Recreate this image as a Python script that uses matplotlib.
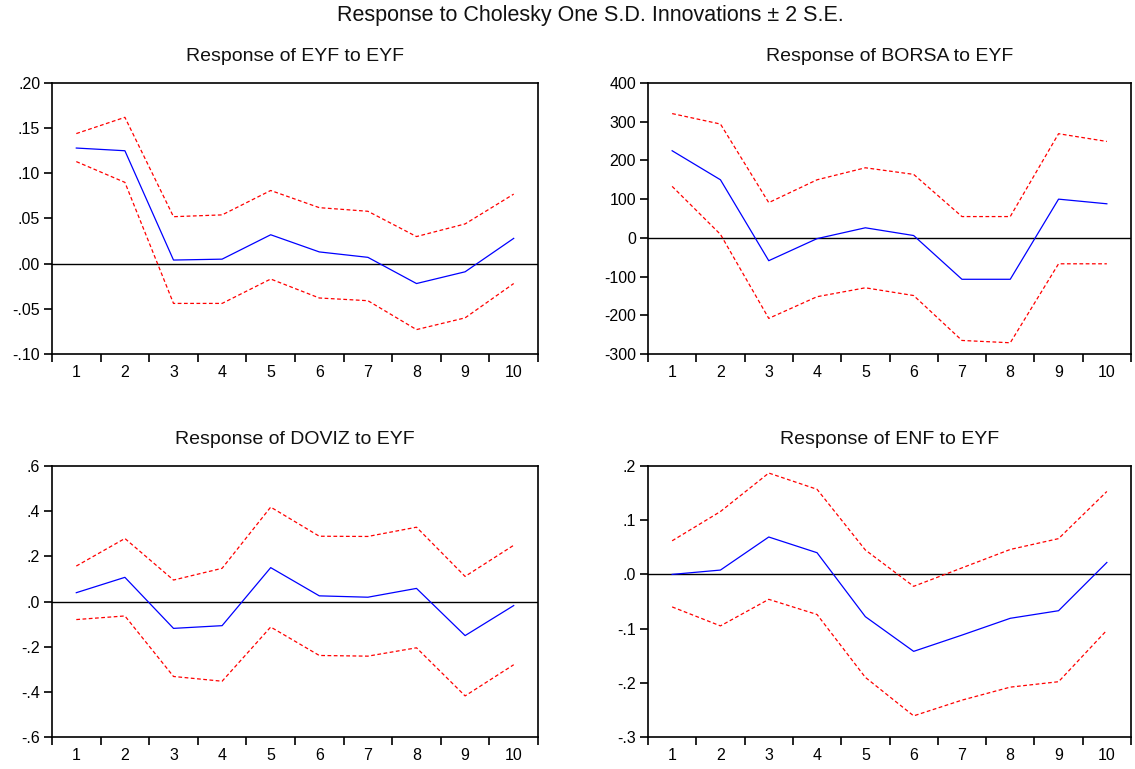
import matplotlib
matplotlib.use("Agg")
import matplotlib.pyplot as plt
import numpy as np

plt.rcParams['font.family'] = ['Liberation Sans', 'DejaVu Sans']

periods = np.arange(1, 11)
period_labels = [str(p) for p in periods]

# Response of EYF to EYF
eyf_resp = [0.128, 0.125, 0.004, 0.005, 0.032, 0.013, 0.007, -0.022, -0.009, 0.028]
eyf_upper = [0.144, 0.162, 0.052, 0.054, 0.081, 0.062, 0.058, 0.030, 0.044, 0.077]
eyf_lower = [0.113, 0.090, -0.044, -0.044, -0.017, -0.038, -0.041, -0.073, -0.060, -0.022]

# Response of BORSA to EYF
borsa_resp = [225, 150, -59, -2, 26, 6, -107, -107, 100, 88]
borsa_upper = [321, 294, 91, 150, 181, 164, 55, 55, 269, 249]
borsa_lower = [133, 9, -208, -152, -129, -149, -265, -271, -67, -67]

# Response of DOVIZ to EYF
doviz_resp = [0.039, 0.107, -0.119, -0.107, 0.150, 0.025, 0.019, 0.058, -0.151, -0.018]
doviz_upper = [0.157, 0.279, 0.095, 0.147, 0.418, 0.289, 0.288, 0.329, 0.111, 0.249]
doviz_lower = [-0.080, -0.064, -0.332, -0.353, -0.113, -0.239, -0.242, -0.205, -0.418, -0.280]

# Response of ENF to EYF
enf_resp = [0.000, 0.008, 0.069, 0.040, -0.078, -0.142, -0.112, -0.081, -0.067, 0.022]
enf_upper = [0.062, 0.116, 0.187, 0.157, 0.045, -0.022, 0.012, 0.046, 0.066, 0.153]
enf_lower = [-0.060, -0.095, -0.046, -0.074, -0.190, -0.261, -0.232, -0.208, -0.198, -0.103]

titles = ["Response of EYF to EYF", "Response of BORSA to EYF",
          "Response of DOVIZ to EYF", "Response of ENF to EYF"]

yticks_eyf = [-0.10, -0.05, 0.00, 0.05, 0.10, 0.15, 0.20]
ylabels_eyf = ["-.10", "-.05", ".00", ".05", ".10", ".15", ".20"]
yticks_borsa = [-300, -200, -100, 0, 100, 200, 300, 400]
ylabels_borsa = ["-300", "-200", "-100", "0", "100", "200", "300", "400"]
yticks_doviz = [-0.6, -0.4, -0.2, 0.0, 0.2, 0.4, 0.6]
ylabels_doviz = ["-.6", "-.4", "-.2", ".0", ".2", ".4", ".6"]
yticks_enf = [-0.3, -0.2, -0.1, 0.0, 0.1, 0.2]
ylabels_enf = ["-.3", "-.2", "-.1", ".0", ".1", ".2"]

panels = [
    (eyf_resp, eyf_upper, eyf_lower, yticks_eyf, ylabels_eyf),
    (borsa_resp, borsa_upper, borsa_lower, yticks_borsa, ylabels_borsa),
    (doviz_resp, doviz_upper, doviz_lower, yticks_doviz, ylabels_doviz),
    (enf_resp, enf_upper, enf_lower, yticks_enf, ylabels_enf),
]

W, H = 1135, 769
boxes = [(52, 83, 538, 354), (648, 83, 1131, 354),
         (52, 466, 538, 737), (648, 466, 1131, 737)]

fig = plt.figure(figsize=(W / 100, H / 100), dpi=100)
fig.text(590 / W, 1 - 15 / H, "Response to Cholesky One S.D. Innovations \u00b1 2 S.E.",
         ha="center", va="center", fontsize=15.5, color="#111111")

for (x0, y0, x1, y1), title, (resp, up, lo, yt, yl) in zip(boxes, titles, panels):
    ax = fig.add_axes([x0 / W, 1 - y1 / H, (x1 - x0) / W, (y1 - y0) / H])
    ax.axhline(0, color="black", lw=1.0)
    ax.plot(periods, resp, color="#0000ff", lw=0.9)
    ax.plot(periods, up, color="#ff0000", lw=0.9, ls=(0, (3, 2)))
    ax.plot(periods, lo, color="#ff0000", lw=0.9, ls=(0, (3, 2)))
    ax.set_xlim(0.5, 10.5)
    ax.set_ylim(yt[0], yt[-1])
    ax.set_yticks(yt)
    ax.set_yticklabels(yl)
    ax.set_xticks(np.arange(0.5, 11, 1))
    ax.set_xticklabels([])
    ax.set_xticks(periods, minor=True)
    ax.set_xticklabels(period_labels, minor=True)
    ax.tick_params(axis="x", which="major", direction="out", length=6, width=1.2)
    ax.tick_params(axis="x", which="minor", length=0, pad=8, labelsize=11.5)
    ax.tick_params(axis="y", direction="out", length=6, width=1.2, pad=2.5, labelsize=11.5)
    for s in ax.spines.values():
        s.set_linewidth(1.2)
    ax.set_title(title, fontsize=14, pad=16, color="#111111")

plt.savefig("out.png", dpi=100)
